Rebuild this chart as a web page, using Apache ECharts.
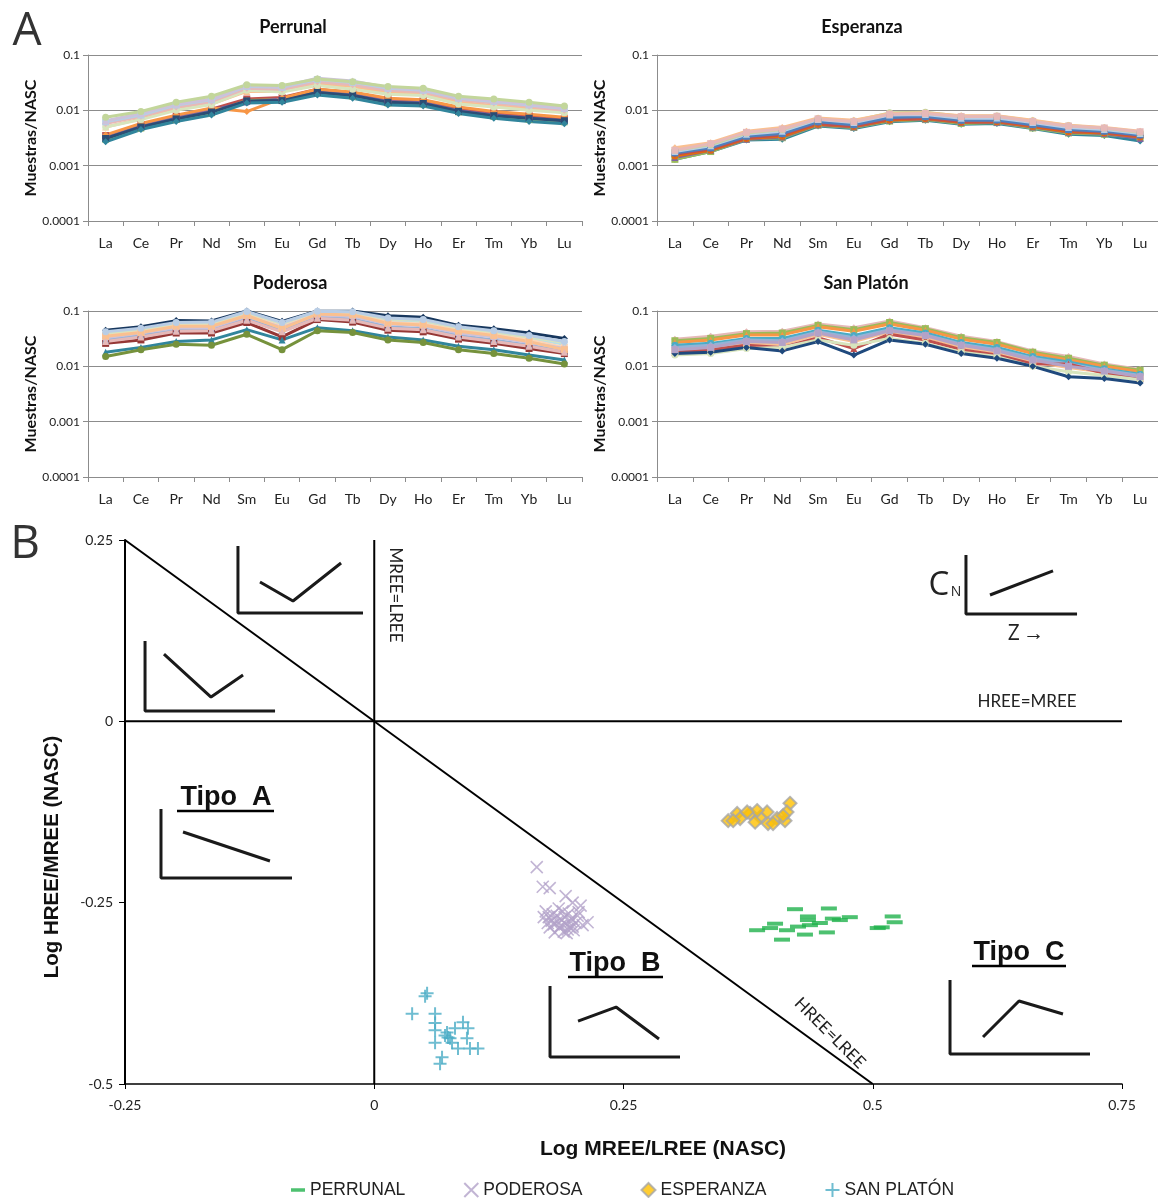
<!DOCTYPE html>
<html><head><meta charset="utf-8">
<script src="https://cdn.jsdelivr.net/npm/echarts@6/dist/echarts.min.js"></script>
<style>html,body{margin:0;padding:0;background:#fff}#c{width:1158px;height:1198px}</style>
</head><body><div id="c"></div>
<script>
// ---------- DATA ----------
const ree = ['La','Ce','Pr','Nd','Sm','Eu','Gd','Tb','Dy','Ho','Er','Tm','Yb','Lu'];
const logTickLabels = ['0.0001','0.001','0.01','0.1'];
const panelTitles = ['Perrunal','Esperanza','Poderosa','San Platón'];

const perrunal = [
 [0.0033,0.0052,0.0072,0.0095,0.0155,0.016,0.023,0.020,0.0150,0.0140,0.0100,0.0085,0.0075,0.0068],
 [0.0035,0.0055,0.0078,0.0105,0.016,0.017,0.024,0.021,0.016,0.0150,0.011,0.009,0.008,0.0072],
 [0.0030,0.0048,0.0068,0.0090,0.015,0.0155,0.021,0.018,0.0135,0.0130,0.0094,0.0078,0.0068,0.0062],
 [0.0034,0.0053,0.0074,0.0100,0.0140,0.0160,0.022,0.0195,0.0145,0.0138,0.0098,0.0082,0.0073,0.0065],
 [0.0036,0.0058,0.0082,0.0110,0.0095,0.0165,0.024,0.0215,0.0165,0.0155,0.0115,0.0095,0.0085,0.0075],
 [0.0031,0.0050,0.0070,0.0093,0.0148,0.0150,0.021,0.0185,0.0140,0.0133,0.0096,0.0080,0.0072,0.0065],
 [0.0050,0.0070,0.0105,0.0130,0.0220,0.0220,0.030,0.027,0.021,0.0195,0.0140,0.0122,0.0108,0.0092],
 [0.0050,0.0068,0.0100,0.0128,0.0230,0.0215,0.028,0.024,0.0195,0.0185,0.0130,0.0115,0.0100,0.0090],
 [0.0058,0.0078,0.0115,0.0145,0.025,0.024,0.033,0.029,0.023,0.0215,0.0155,0.0135,0.0118,0.0100],
 [0.0062,0.0082,0.0125,0.0155,0.027,0.026,0.036,0.032,0.025,0.023,0.0165,0.0145,0.0125,0.0108],
 [0.0065,0.0088,0.013,0.016,0.028,0.027,0.038,0.034,0.026,0.024,0.017,0.015,0.013,0.011],
 [0.0075,0.0095,0.014,0.018,0.029,0.028,0.037,0.033,0.027,0.025,0.018,0.016,0.014,0.012],
 [0.0027,0.0045,0.0063,0.0082,0.0135,0.0140,0.019,0.0165,0.0125,0.0120,0.0088,0.0072,0.0063,0.0057]
];
const esperanza = [
 [0.0013,0.0018,0.0029,0.0030,0.0052,0.0047,0.0062,0.0066,0.0056,0.0058,0.0047,0.0037,0.0035,0.0028],
 [0.0013,0.0018,0.0030,0.0032,0.0054,0.0049,0.0064,0.0068,0.0058,0.0060,0.0048,0.0039,0.0037,0.0032],
 [0.0014,0.0019,0.0030,0.0033,0.0055,0.0050,0.0066,0.0070,0.0060,0.0061,0.0050,0.0040,0.0038,0.0031],
 [0.0015,0.0019,0.0031,0.0034,0.0056,0.0051,0.0067,0.0071,0.0061,0.0062,0.0051,0.0041,0.0039,0.0033],
 [0.0016,0.0020,0.0032,0.0036,0.0058,0.0052,0.0070,0.0073,0.0063,0.0064,0.0053,0.0043,0.0040,0.0034],
 [0.0017,0.0021,0.0034,0.0038,0.0062,0.0055,0.0074,0.0077,0.0066,0.0067,0.0055,0.0045,0.0042,0.0036],
 [0.0018,0.0023,0.0037,0.0042,0.0068,0.0060,0.0082,0.0084,0.0072,0.0073,0.0060,0.0049,0.0045,0.0038],
 [0.0019,0.0024,0.0039,0.0045,0.0071,0.0064,0.0090,0.0092,0.0078,0.0079,0.0065,0.0053,0.0048,0.0040],
 [0.0021,0.0026,0.0042,0.0049,0.0073,0.0066,0.0088,0.0090,0.0080,0.0080,0.0066,0.0054,0.0049,0.0042],
 [0.0019,0.0025,0.0040,0.0046,0.0070,0.0063,0.0085,0.0088,0.0077,0.0078,0.0063,0.0052,0.0048,0.0041]
];
const poderosa = [
 [0.045,0.052,0.067,0.066,0.100,0.065,0.100,0.100,0.082,0.077,0.055,0.048,0.040,0.032],
 [0.026,0.030,0.040,0.040,0.062,0.034,0.070,0.063,0.045,0.042,0.031,0.026,0.021,0.017],
 [0.018,0.022,0.028,0.030,0.046,0.030,0.050,0.044,0.034,0.030,0.023,0.020,0.016,0.013],
 [0.015,0.020,0.025,0.024,0.038,0.020,0.044,0.041,0.030,0.027,0.020,0.017,0.014,0.011],
 [0.038,0.045,0.057,0.057,0.092,0.055,0.095,0.092,0.068,0.064,0.047,0.040,0.032,0.025],
 [0.036,0.042,0.055,0.056,0.085,0.052,0.090,0.088,0.062,0.058,0.045,0.038,0.030,0.022],
 [0.030,0.036,0.045,0.046,0.072,0.045,0.078,0.072,0.052,0.048,0.036,0.030,0.024,0.019],
 [0.033,0.040,0.050,0.050,0.080,0.050,0.085,0.080,0.058,0.054,0.040,0.034,0.027,0.021],
 [0.040,0.047,0.060,0.060,0.095,0.060,0.098,0.095,0.072,0.068,0.050,0.042,0.034,0.027],
 [0.035,0.041,0.053,0.053,0.083,0.048,0.088,0.085,0.060,0.056,0.043,0.036,0.028,0.020],
 [0.028,0.034,0.043,0.044,0.068,0.042,0.074,0.068,0.049,0.046,0.034,0.028,0.023,0.018],
 [0.042,0.049,0.062,0.063,0.098,0.062,0.099,0.097,0.075,0.070,0.052,0.044,0.036,0.028]
];
const sanPlaton = [
 [0.031,0.035,0.042,0.043,0.058,0.050,0.066,0.050,0.035,0.028,0.019,0.015,0.011,0.0088],
 [0.029,0.032,0.039,0.040,0.055,0.046,0.062,0.048,0.033,0.027,0.018,0.014,0.0105,0.0085],
 [0.027,0.030,0.037,0.037,0.052,0.043,0.058,0.045,0.031,0.025,0.017,0.013,0.0100,0.0080],
 [0.024,0.026,0.032,0.032,0.045,0.036,0.050,0.040,0.027,0.022,0.015,0.012,0.0090,0.0072],
 [0.022,0.024,0.030,0.029,0.042,0.033,0.046,0.037,0.025,0.020,0.014,0.011,0.0085,0.0068],
 [0.019,0.021,0.026,0.025,0.038,0.028,0.042,0.034,0.022,0.018,0.012,0.0095,0.0078,0.0062],
 [0.018,0.020,0.024,0.022,0.033,0.021,0.038,0.030,0.020,0.016,0.011,0.011,0.0075,0.0060],
 [0.016,0.017,0.021,0.022,0.030,0.024,0.032,0.026,0.018,0.015,0.010,0.0080,0.0068,0.0057],
 [0.017,0.018,0.022,0.019,0.028,0.016,0.030,0.025,0.017,0.014,0.010,0.0065,0.0060,0.0050],
 [0.020,0.022,0.028,0.027,0.040,0.030,0.044,0.036,0.024,0.019,0.013,0.010,0.0082,0.0065]
];

// Scatter (Log MREE/LREE, Log HREE/MREE)
const perrunalXY = [[0.422,-0.259],[0.456,-0.258],[0.402,-0.279],[0.384,-0.288],[0.397,-0.285],[0.435,-0.269],[0.435,-0.274],[0.437,-0.281],[0.460,-0.272],[0.477,-0.270],[0.467,-0.274],[0.414,-0.288],[0.432,-0.294],[0.454,-0.291],[0.409,-0.301],[0.520,-0.269],[0.522,-0.277],[0.509,-0.284],[0.505,-0.285],[0.447,-0.278],[0.425,-0.283]];
const poderosaXY = [[0.163,-0.201],[0.169,-0.228],[0.176,-0.230],[0.192,-0.241],[0.199,-0.250],[0.207,-0.254],[0.205,-0.263],[0.214,-0.277],[0.172,-0.262],[0.175,-0.270],[0.178,-0.275],[0.180,-0.280],[0.183,-0.268],[0.186,-0.285],[0.188,-0.274],[0.190,-0.290],[0.192,-0.279],[0.195,-0.265],[0.196,-0.284],[0.198,-0.272],[0.200,-0.288],[0.202,-0.278],[0.204,-0.268],[0.176,-0.284],[0.181,-0.291],[0.185,-0.258],[0.189,-0.262],[0.193,-0.292],[0.199,-0.283],[0.174,-0.278],[0.179,-0.266],[0.184,-0.276],[0.187,-0.282],[0.191,-0.270],[0.194,-0.287],[0.197,-0.276],[0.170,-0.270],[0.209,-0.281]];
const esperanzaXY = [[0.355,-0.137],[0.364,-0.127],[0.367,-0.134],[0.377,-0.127],[0.387,-0.132],[0.394,-0.125],[0.395,-0.141],[0.404,-0.134],[0.412,-0.137],[0.417,-0.113],[0.414,-0.125],[0.384,-0.123],[0.374,-0.125],[0.360,-0.137],[0.400,-0.141],[0.410,-0.130],[0.382,-0.139]];
const sanPlatonXY = [[0.053,-0.375],[0.051,-0.379],[0.038,-0.403],[0.061,-0.403],[0.061,-0.416],[0.061,-0.426],[0.073,-0.429],[0.076,-0.437],[0.081,-0.423],[0.089,-0.415],[0.094,-0.423],[0.093,-0.437],[0.061,-0.443],[0.078,-0.443],[0.084,-0.451],[0.096,-0.451],[0.104,-0.451],[0.068,-0.463],[0.066,-0.472],[0.074,-0.436],[0.071,-0.433]];
const scatterNames = ['PERRUNAL','PODEROSA','ESPERANZA','SAN PLATÓN'];

// Reference lines and type sketches (data units)
const refLines = [
 [[0,0.25],[0,-0.5]],
 [[-0.25,0],[0.75,0]],
 [[-0.25,0.25],[0.5,-0.5]]
];
const sketches = [
 [[-0.1367,0.2417],[-0.1367,0.1494],[-0.0113,0.1494]],
 [[-0.1146,0.1921],[-0.0815,0.1659],[-0.0333,0.2183]],
 [[-0.2299,0.1107],[-0.2299,0.0142],[-0.0995,0.0142]],
 [[-0.2109,0.0928],[-0.1637,0.0335],[-0.1316,0.0639]],
 [[0.5935,0.2293],[0.5935,0.148],[0.7049,0.148]],
 [[0.6176,0.1742],[0.6808,0.2073]],
 [[-0.2139,-0.1209],[-0.2139,-0.216],[-0.0825,-0.216]],
 [[-0.1918,-0.1526],[-0.1046,-0.1926]],
 [[0.1763,-0.3649],[0.1763,-0.4628],[0.3067,-0.4628]],
 [[0.2044,-0.4132],[0.2425,-0.3939],[0.2856,-0.438]],
 [[0.5775,-0.3567],[0.5775,-0.4587],[0.7179,-0.4587]],
 [[0.6106,-0.4352],[0.6467,-0.3856],[0.6908,-0.4035]]
];

// ---------- STYLE ----------
const panelColors = [
 ['#4F81BD','#C0504D','#9BBB59','#8064A2','#F79646','#2C4D75','#FAC090','#D7E4BD','#E6B9B8','#B9CDE5','#CCC1DA','#C3D69B','#31859C'],
 ['#31859C','#9BBB59','#8064A2','#E46C0A','#C0504D','#4F81BD','#B9CDE5','#C3D69B','#FAC090','#E6B9B8'],
 ['#17375E','#953735','#31859C','#76923C','#B7DEE8','#FCD5B5','#95B3D7','#CCC1DA','#D7E4BD','#FAC090','#E6B9B8','#B9CDE5'],
 ['#E6B9B8','#9BBB59','#F79646','#4BACC6','#95B3D7','#FAC090','#C0504D','#D7E4BD','#1F497D','#B3A2C7']
];
const syms = ['diamond','rect','triangle','circle'];
const panels = [perrunal, esperanza, poderosa, sanPlaton];
const gridBoxes = [
 {left:88, top:55, width:494, height:166},
 {left:657, top:55, width:501, height:166},
 {left:88, top:311, width:494, height:166},
 {left:657, top:311, width:501, height:166}
];
const grey = '#8c8c8c';
const calib = 'Lato, "Open Sans", sans-serif';
const arial = '"Liberation Sans", Arial, sans-serif';

const grids = gridBoxes.concat([{left:125, top:540, width:997, height:544}]);
const xAxes = [], yAxes = [], series = [];
panels.forEach((rows, gi) => {
  xAxes.push({gridIndex:gi, type:'category', data:ree, boundaryGap:true,
    axisLine:{lineStyle:{color:grey}}, axisTick:{show:true, length:5, interval:0, lineStyle:{color:grey}},
    axisLabel:{color:'#222', fontSize:14, margin:15, interval:0, fontFamily:calib}});
  yAxes.push({gridIndex:gi, type:'log', logBase:10, min:0.0001, max:0.1,
    axisLine:{show:true, lineStyle:{color:grey}}, axisTick:{show:true, length:5, lineStyle:{color:grey}},
    minorTick:{show:false}, minorSplitLine:{show:false},
    splitLine:{show:true, lineStyle:{color:grey, width:1}},
    axisLabel:{color:'#222', fontSize:12, margin:8, fontFamily:calib,
      formatter: v => logTickLabels[Math.round(Math.log10(v)) + 4]},
    name:'Muestras/NASC', nameLocation:'middle', nameGap: (gi % 2 ? 48 : 43),
    nameTextStyle:{fontWeight:'bold', fontSize:16, color:'#111', fontFamily:calib}});
  rows.forEach((r, i) => {
    const c = panelColors[gi][i % panelColors[gi].length];
    series.push({name:'s'+gi+'_'+i, type:'line', xAxisIndex:gi, yAxisIndex:gi, data:r,
      symbol:syms[i % syms.length], symbolSize:7, showSymbol:true,
      lineStyle:{width:3, color:c}, itemStyle:{color:c}, silent:true, z:2});
  });
});
xAxes.push({gridIndex:4, type:'value', min:-0.25, max:0.75, interval:0.25,
  axisLine:{show:true, onZero:false, lineStyle:{color:'#000', width:1.5}},
  axisTick:{show:true, length:5, lineStyle:{color:'#000'}}, splitLine:{show:false},
  axisLabel:{color:'#222', fontSize:14, margin:14, fontFamily:calib}});
yAxes.push({gridIndex:4, type:'value', min:-0.5, max:0.25, interval:0.25,
  axisLine:{show:true, onZero:false, lineStyle:{color:'#000', width:2}},
  axisTick:{show:true, length:6, lineStyle:{color:'#000'}}, splitLine:{show:false},
  axisLabel:{color:'#222', fontSize:14, margin:12, fontFamily:calib}});

refLines.forEach((l, i) => series.push({name:'ref'+i, type:'line', xAxisIndex:4, yAxisIndex:4, data:l,
  showSymbol:false, symbol:'none', lineStyle:{color:'#000', width:2}, silent:true, z:3}));
sketches.forEach((l, i) => series.push({name:'sk'+i, type:'line', xAxisIndex:4, yAxisIndex:4, data:l,
  showSymbol:false, symbol:'none', lineStyle:{color:'#1a1a1a', width:3}, silent:true, z:3}));

series.push({name:'PERRUNAL', type:'scatter', xAxisIndex:4, yAxisIndex:4, data:perrunalXY,
  symbol:'rect', symbolSize:[16,4], itemStyle:{color:'#21b14c'}, z:5});
series.push({name:'PODEROSA', type:'scatter', xAxisIndex:4, yAxisIndex:4, data:poderosaXY,
  symbol:'path://M0,0L10,10M10,0L0,10', symbolSize:12,
  itemStyle:{color:'#b3a2c9', borderColor:'#b3a2c9', borderWidth:1.6}, z:5});
series.push({name:'ESPERANZA', type:'scatter', xAxisIndex:4, yAxisIndex:4, data:esperanzaXY,
  symbol:'diamond', symbolSize:13, itemStyle:{color:'#FFC000', borderColor:'#a6a6a6', borderWidth:2}, z:5});
series.push({name:'SAN PLATÓN', type:'scatter', xAxisIndex:4, yAxisIndex:4, data:sanPlatonXY,
  symbol:'path://M5,0L5,10M0,5L10,5', symbolSize:13,
  itemStyle:{color:'#4BACC6', borderColor:'#4BACC6', borderWidth:2}, z:5});

function txt(x, y, text, size, opts) {
  opts = opts || {};
  return {type:'text', x:x, y:y, rotation:opts.rot || 0, z:10,
    style:{text:text, fontSize:size, fontWeight:opts.bold ? 'bold' : 'normal',
      fontFamily:opts.font || calib, fill:opts.color || '#111', align:'center', verticalAlign:'middle'}};
}
function uline(x1, x2, y) {
  return {type:'line', z:10, shape:{x1:x1, y1:y, x2:x2, y2:y}, style:{stroke:'#000', lineWidth:2.5}};
}
const titlePos = [[293,27],[862,27],[290,283],[866,283]];
const graphic = [
  txt(27, 32, 'A', 46, {font:'"Open Sans", sans-serif', color:'#333'}),
  txt(25, 545, 'B', 46, {font:'"Open Sans", sans-serif', color:'#333'}),
  ...panelTitles.map((t, i) => txt(titlePos[i][0], titlePos[i][1], t, 18, {bold:true})),
  txt(395, 595, 'MREE=LREE', 17, {rot:-Math.PI/2, color:'#222'}),
  txt(1027, 702, 'HREE=MREE', 17, {color:'#222'}),
  txt(830, 1033, 'HREE=LREE', 17, {rot:-Math.PI/4, color:'#222'}),
  txt(226, 798, 'Tipo  A', 27, {bold:true, font:arial}),
  uline(177, 274, 811),
  txt(615, 964, 'Tipo  B', 27, {bold:true, font:arial}),
  uline(568, 663, 977),
  txt(1019, 953, 'Tipo  C', 27, {bold:true, font:arial}),
  uline(972, 1066, 966),
  txt(939, 586, 'C', 33, {font:'"Open Sans", sans-serif', color:'#222'}),
  txt(956, 592, 'N', 14, {font:'"Open Sans", sans-serif', color:'#222'}),
  txt(1026, 634, 'Z\u2009\u2192', 21, {font:'"Open Sans", sans-serif', color:'#222'}),
  txt(663, 1149, 'Log MREE/LREE (NASC)', 21, {bold:true, font:arial}),
  txt(52, 857, 'Log HREE/MREE (NASC)', 20.5, {bold:true, font:arial, rot:Math.PI/2})
];

const chart = echarts.init(document.getElementById('c'), null, {renderer:'canvas'});
chart.setOption({
  animation:false,
  backgroundColor:'#fff',
  grid: grids,
  xAxis: xAxes,
  yAxis: yAxes,
  series: series,
  legend: {
    data:[
      {name:'PERRUNAL', icon:'path://M0,0L0,0M0,6H16V10H0ZM0,16L0,16'},
      {name:'PODEROSA'},
      {name:'ESPERANZA'},
      {name:'SAN PLATÓN'}
    ],
    left:286, top:1176, itemGap:58, itemWidth:14, itemHeight:14,
    textStyle:{fontSize:17.5, color:'#222', fontFamily:arial}
  },
  graphic: graphic
});
</script></body></html>
